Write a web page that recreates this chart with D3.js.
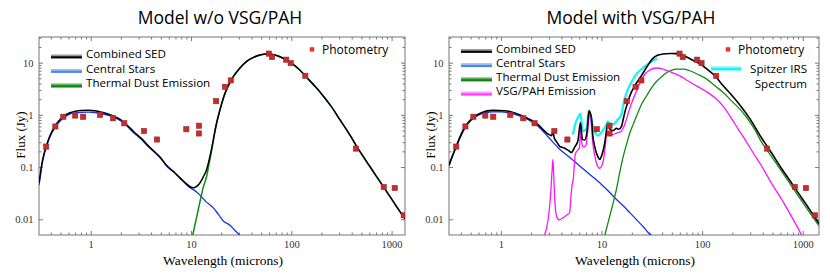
<!DOCTYPE html>
<html>
<head>
<meta charset="utf-8">
<script src="https://cdn.jsdelivr.net/npm/d3@7"></script>
<style>
  body { margin: 0; background: #fff; }
  svg { display: block; }
</style>
</head>
<body>
<script>
// [wavelength (microns), flux (Jy)]
var photometry = [[0.36,0.247],[0.444,0.60],[0.533,0.92],[0.70,0.97],[0.84,0.92],[1.24,1.0],[1.67,0.86],
  [2.16,0.69],[3.4,0.49],[4.58,0.337],[8.98,0.53],[12.0,0.62],[12.0,0.44],[17.8,1.83],[21.8,3.45],
  [24.9,4.57],[59.6,14.9],[64.2,12.8],[89,11.4],[98.6,9.8],[138,5.6],[442,0.226],[834,0.0415],
  [1074,0.0397],[1321,0.0119]];

// model w/o VSG/PAH
var leftStars = [[0.305,0.045],[0.315,0.068],[0.325,0.105],[0.34,0.16],[0.36,0.24],[0.39,0.37],[0.44,0.57],
  [0.5,0.78],[0.55,0.91],[0.62,1.03],[0.7,1.09],[0.8,1.12],[0.95,1.13],[1.1,1.11],[1.3,1.05],[1.6,0.94],
  [2.0,0.76],[2.3,0.61],[2.7,0.45],[3.2,0.34],[3.8,0.24],[4.55,0.175],[5.0,0.145],[5.7,0.105],[6.7,0.08],
  [7.8,0.06],[9.0,0.046],[9.8,0.04],[11,0.035],[12.3,0.029],[14,0.022],[16.7,0.0165],[19,0.012],
  [21,0.0093],[24.5,0.0077],[27,0.0063],[30.5,0.005]];
var leftDust = [[10.4,0.005],[11.5,0.012],[12.3,0.022],[13.2,0.04],[14.3,0.066],[15.2,0.12],[16,0.2],
  [17.8,0.62],[19.5,1.27],[21.8,2.57],[24,3.88],[26.4,5.38],[30,7.48],[35.9,10.6],[42,12.6],[48.7,14.0],
  [57,14.6],[65,14.3],[77,13.0],[90,11.2],[101,9.7],[120,7.4],[142.5,5.2],[175,3.4],[208,2.3],[250,1.45],
  [306,0.8],[390,0.39],[442,0.26],[520,0.16],[617,0.098],[711,0.065],[834,0.0414],[964,0.0272],
  [1100,0.0185],[1321,0.011],[1360,0.0102]];
var leftSed = [[0.305,0.05],[0.315,0.075],[0.325,0.113],[0.34,0.17],[0.36,0.25],[0.39,0.39],[0.44,0.61],
  [0.5,0.83],[0.55,0.97],[0.62,1.1],[0.7,1.17],[0.8,1.21],[0.95,1.22],[1.1,1.2],[1.3,1.12],[1.6,0.99],
  [2.0,0.8],[2.3,0.64],[2.7,0.47],[3.2,0.355],[3.8,0.25],[4.55,0.18],[5.0,0.15],[5.7,0.108],[6.7,0.082],
  [7.8,0.062],[9.0,0.048],[9.8,0.042],[10.5,0.040],[11.3,0.042],[12.3,0.05],[13.2,0.064],[14.3,0.089],
  [15.2,0.14],[16,0.22],[17.8,0.64],[19.5,1.28],[21.8,2.58],[24,3.9],[26.4,5.4],[30,7.5],[35.9,10.6],
  [42,12.6],[48.7,14.0],[57,14.6],[65,14.3],[77,13.0],[90,11.2],[101,9.7],[120,7.4],[142.5,5.2],[175,3.4],
  [208,2.3],[250,1.45],[306,0.8],[390,0.39],[442,0.26],[520,0.16],[617,0.098],[711,0.065],[834,0.0414],
  [964,0.0272],[1100,0.0185],[1321,0.011],[1360,0.0102]];

// model with VSG/PAH
var rightStars = [[0.305,0.105],[0.33,0.16],[0.36,0.24],[0.39,0.35],[0.435,0.54],[0.5,0.77],[0.53,0.85],
  [0.6,0.99],[0.7,1.09],[0.83,1.14],[1.0,1.14],[1.2,1.09],[1.6,0.92],[2.0,0.75],[2.33,0.61],[2.94,0.38],
  [3.84,0.22],[5.0,0.145],[6.07,0.105],[7.6,0.073],[9.6,0.05],[11.8,0.034],[14.1,0.024],[16.5,0.018],
  [19.1,0.0134],[23,0.0092],[26,0.0072],[29,0.0056],[31,0.005]];
var rightDust = [[10.8,0.005],[12,0.011],[13,0.02],[14,0.036],[15.2,0.08],[16.3,0.15],[17.7,0.27],
  [19.1,0.45],[20.6,0.65],[23,1.1],[25,1.6],[28,2.3],[31.4,3.3],[35,4.3],[38,5.0],[44.2,6.4],[50,7.2],
  [55.6,7.5],[65,7.5],[75.5,7.0],[90,6.0],[111,4.84],[134,3.6],[162,2.69],[196,1.85],[237,1.29],[276,0.9],
  [334,0.52],[390,0.3],[467,0.18],[617,0.083],[834,0.035],[1100,0.016],[1450,0.0075]];
var rightPah = [[2.72,0.005],[2.95,0.01],[3.1,0.025],[3.22,0.08],[3.29,0.14],[3.36,0.06],[3.45,0.02],
  [3.6,0.011],[3.8,0.0098],[4.14,0.0107],[4.5,0.012],[4.83,0.0135],[4.95,0.025],[5.1,0.045],[5.25,0.06],
  [5.35,0.1],[5.5,0.18],[5.8,0.21],[6.05,0.24],[6.2,0.55],[6.35,0.3],[6.6,0.24],[7.0,0.26],[7.3,0.5],
  [7.6,1.03],[7.9,0.72],[8.2,0.28],[8.6,0.16],[8.9,0.12],[9.6,0.095],[10.3,0.12],[10.9,0.25],[11.3,0.48],
  [11.7,0.42],[12.5,0.42],[13.5,0.43],[14.6,0.46],[15.8,0.49],[16.7,0.6],[17.7,0.83],[19,1.3],[20.6,2.0],
  [22.5,3.0],[24.9,4.6],[27,6.0],[30.2,7.2],[35,7.9],[40,7.6],[44,7.1],[50,6.5],[60,5.6],[72,4.5],
  [87.6,3.6],[110,2.8],[135,2.1],[160,1.5],[196,0.85],[230,0.52],[266,0.34],[320,0.19],[390,0.105],
  [480,0.052],[617,0.024],[780,0.011],[975,0.005]];
var rightIrs = [[5.2,0.42],[5.41,0.6],[5.6,0.75],[5.83,0.89],[6.05,1.0],[6.2,1.05],[6.4,0.6],[6.55,0.49],
  [6.8,0.5],[7.08,0.55],[7.3,0.8],[7.5,1.2],[7.8,0.9],[8.23,0.61],[8.7,0.45],[9.23,0.4],[9.97,0.46],
  [10.6,0.55],[11.2,0.65],[11.5,0.75],[11.9,0.7],[12.4,0.66],[13,0.66],[13.8,0.72],[14.6,0.83],[15.2,0.9],
  [15.8,1.03],[16.5,1.6],[17.7,2.6],[19,3.6],[20.6,4.8],[22,5.9],[24,7.0],[26,8.0],[29,9.4],[32,10.8],
  [36,12.1]];
var rightSed = [[0.305,0.11],[0.33,0.165],[0.36,0.25],[0.39,0.37],[0.435,0.57],[0.5,0.8],[0.53,0.89],
  [0.64,1.1],[0.83,1.22],[1.09,1.2],[1.6,0.97],[2.33,0.66],[2.94,0.43],[3.2,0.4],[3.29,0.5],[3.38,0.37],
  [3.6,0.3],[3.84,0.25],[4.3,0.23],[4.83,0.2],[5.0,0.19],[5.41,0.24],[5.83,0.32],[6.17,0.71],[6.46,0.34],
  [6.8,0.33],[7.2,0.5],[7.5,1.19],[7.94,0.89],[8.2,0.4],[8.55,0.25],[9.23,0.155],[9.6,0.14],[9.97,0.16],
  [10.8,0.3],[11.4,0.62],[11.6,0.66],[12.1,0.53],[13,0.5],[14.1,0.55],[14.9,0.53],[15.8,0.6],[16.5,0.85],
  [17,1.1],[18,1.6],[19.1,2.3],[21.4,3.6],[24.9,5.6],[29,9.0],[32.6,12.2],[36,13.8],[40.9,14.6],[48,15.0],
  [55.6,14.9],[62,14.2],[70,12.8],[80,11.2],[98.6,9.1],[111,7.6],[134,5.6],[162,3.6],[196,2.4],[237,1.55],
  [300,0.83],[390,0.36],[467,0.215],[617,0.093],[750,0.054],[902,0.032],[1050,0.021],[1227,0.0134],
  [1450,0.0083]];

var xTicks = [1, 10, 100, 1000];
var yTicks = [0.01, 0.1, 1, 10];
var yDomain = [0.005, 31];
var titles = ["Model w/o VSG/PAH", "Model with VSG/PAH"];
var legendLeft = ["Combined SED", "Central Stars", "Thermal Dust Emission"];
var legendRight = ["Combined SED", "Central Stars", "Thermal Dust Emission", "VSG/PAH Emission"];
var irsLabel = ["Spitzer IRS", "Spectrum"];

var black = "#000000", blue = "#1433ee", green = "#138a13", magenta = "#ff14ff", cyan = "#1ef0f5";

var svg = d3.select("body").append("svg")
    .attr("width", 830)
    .attr("height", 276);

var serif = "'Liberation Serif', 'Times New Roman', serif",
    sans = "'Open Sans', 'Noto Sans', sans-serif";

function minorTicks(lo, hi) {
  var out = [];
  for (var e = -1; e <= 3; e++) {
    for (var k = 2; k <= 9; k++) {
      var v = k * Math.pow(10, e);
      if (v > lo && v < hi) out.push(v);
    }
  }
  return out;
}

function drawPanel(p, idx) {
  var top = 37, bottom = 235;
  var x = d3.scaleLog().domain([0.305, p.xMax]).range([p.left, p.right]);
  var y = d3.scaleLog().domain(yDomain).range([bottom, top]);

  var g = svg.append("g");

  // title
  g.append("text")
    .attr("x", p.titleX).attr("y", 24)
    .attr("text-anchor", "middle")
    .style("font-family", sans).style("font-size", "17.5px")
    .text(p.title);

  // axes, ticks pointing inward on all four sides
  var xMinor = minorTicks(0.305, p.xMax), yMinor = minorTicks(yDomain[0], yDomain[1]);
  function axes(maker, scale, pos, major, minor, labels) {
    var a = g.append("g").attr("transform", pos);
    a.call(maker(scale).tickValues(major).tickSizeInner(-4).tickSizeOuter(0).tickPadding(labels ? 5.5 : 0)
        .tickFormat(labels ? function (d) { return String(d); } : ""));
    a.append("g").call(maker(scale).tickValues(minor).tickSizeInner(-2.5).tickSizeOuter(0).tickFormat(""));
    a.selectAll(".domain").remove();
    a.selectAll("line").attr("stroke", "#777");
    a.selectAll("text").attr("fill", "#333").style("font-family", serif).style("font-size", "10.5px");
  }
  axes(d3.axisBottom, x, "translate(0," + bottom + ")", xTicks, xMinor, true);
  axes(d3.axisTop, x, "translate(0," + top + ")", xTicks, xMinor, false);
  axes(d3.axisLeft, y, "translate(" + p.left + ",0)", yTicks, yMinor, true);
  axes(d3.axisRight, y, "translate(" + p.right + ",0)", yTicks, yMinor, false);

  g.append("rect")
    .attr("x", p.left).attr("y", top)
    .attr("width", p.right - p.left).attr("height", bottom - top)
    .attr("fill", "none").attr("stroke", "#777").attr("stroke-width", 1);

  // axis labels
  g.append("text")
    .attr("x", (p.left + p.right) / 2 + 1).attr("y", 265)
    .attr("text-anchor", "middle")
    .style("font-family", serif).style("font-size", "13.5px")
    .text("Wavelength (microns)");
  g.append("text")
    .attr("transform", "translate(" + (p.left - 14) + ",135) rotate(-90)")
    .attr("text-anchor", "middle")
    .style("font-family", serif).style("font-size", "13px")
    .text("Flux (Jy)");

  // curves
  g.append("clipPath").attr("id", "clip" + idx)
    .append("rect").attr("x", p.left).attr("y", top)
    .attr("width", p.right - p.left).attr("height", bottom - top);
  var plot = g.append("g").attr("clip-path", "url(#clip" + idx + ")");
  var line = d3.line()
    .x(function (d) { return x(d[0]); })
    .y(function (d) { return y(d[1]); })
    .curve(d3.curveMonotoneX);
  p.curves.forEach(function (c) {
    plot.append("path")
      .datum(c.data)
      .attr("d", line)
      .attr("fill", "none")
      .attr("stroke", c.color)
      .attr("stroke-width", c.width)
      .attr("stroke-linejoin", "round");
  });

  plot.selectAll("rect.phot")
    .data(photometry)
    .enter().append("rect")
      .attr("class", "phot")
      .attr("x", function (d) { return x(d[0]) - 2.6; })
      .attr("y", function (d) { return y(d[1]) - 2.6; })
      .attr("width", 5.2).attr("height", 5.2)
      .attr("fill", "#cc2a2a")
      .attr("stroke", "#8c2a2a").attr("stroke-width", 0.6);

  // legend
  p.legend.forEach(function (item, i) {
    var ly = p.legendY + i * p.legendStep;
    g.append("line")
      .attr("x1", p.left + 12).attr("x2", p.left + 43)
      .attr("y1", ly).attr("y2", ly)
      .attr("stroke", item.glow).attr("stroke-width", 4);
    g.append("line")
      .attr("x1", p.left + 12).attr("x2", p.left + 43)
      .attr("y1", ly + 0.8).attr("y2", ly + 0.8)
      .attr("stroke", item.color).attr("stroke-width", 2);
    g.append("text")
      .attr("x", p.left + 47).attr("y", ly + 1.5)
      .style("font-family", sans).style("font-size", "11.6px")
      .text(item.label);
  });

  g.append("rect")
    .attr("x", p.photX - 2.2).attr("y", 47.2)
    .attr("width", 4.4).attr("height", 4.4)
    .attr("fill", "#e4352a");
  g.append("text")
    .attr("x", p.photX + 10).attr("y", 54)
    .style("font-family", sans).style("font-size", "12px")
    .text("Photometry");
}

var panels = [
  {
    left: 39, right: 405, xMax: 1360, title: titles[0], titleX: 220, photX: 312,
    legendY: 56.5, legendStep: 14.5,
    curves: [
      {data: leftStars, color: blue, width: 1.3},
      {data: leftDust, color: green, width: 1.5},
      {data: leftSed, color: black, width: 1.5}
    ],
    legend: [
      {label: legendLeft[0], color: "#000", glow: "#999"},
      {label: legendLeft[1], color: "#4d86f0", glow: "#9bbcf5"},
      {label: legendLeft[2], color: "#128012", glow: "#5fb45f"}
    ]
  },
  {
    left: 449, right: 819, xMax: 1450, title: titles[1], titleX: 631, photX: 728,
    legendY: 51, legendStep: 14.2,
    curves: [
      {data: rightIrs, color: cyan, width: 2.3},
      {data: rightStars, color: blue, width: 1.3},
      {data: rightDust, color: green, width: 1.3},
      {data: rightPah, color: magenta, width: 1.3},
      {data: rightSed, color: black, width: 1.6}
    ],
    legend: [
      {label: legendRight[0], color: "#000", glow: "#999"},
      {label: legendRight[1], color: "#4d86f0", glow: "#9bbcf5"},
      {label: legendRight[2], color: "#128012", glow: "#5fb45f"},
      {label: legendRight[3], color: "#ff3cff", glow: "#ff9cff"}
    ]
  }
];

panels.forEach(drawPanel);

// Spitzer IRS legend entry on the right panel
svg.append("line")
  .attr("x1", 711).attr("x2", 741).attr("y1", 68.5).attr("y2", 68.5)
  .attr("stroke", "#9ff6fa").attr("stroke-width", 4.5);
svg.append("line")
  .attr("x1", 711).attr("x2", 741).attr("y1", 69).attr("y2", 69)
  .attr("stroke", cyan).attr("stroke-width", 2.5);
svg.selectAll("text.irs")
  .data(irsLabel)
  .enter().append("text")
    .attr("class", "irs")
    .attr("x", 807)
    .attr("y", function (d, i) { return 73 + i * 14.8; })
    .attr("text-anchor", "end")
    .style("font-family", sans).style("font-size", "11.6px")
    .text(function (d) { return d; });
</script>
</body>
</html>
